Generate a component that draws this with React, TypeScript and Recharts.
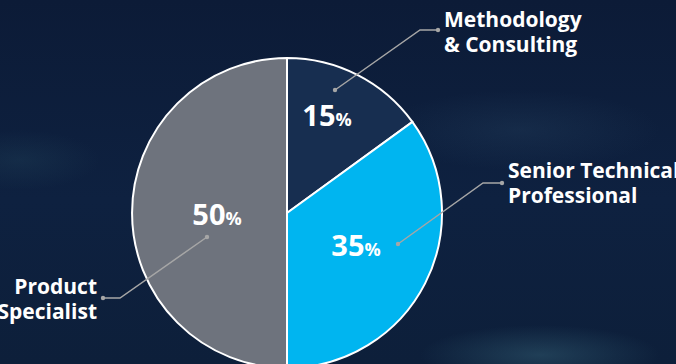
import { PieChart, Pie, Cell } from 'recharts';

const categories = ['Methodology & Consulting', 'Senior Technical Professional', 'Product Specialist'];
const calloutText = [
  ['Methodology', '& Consulting'],
  ['Senior Technical', 'Professional'],
  ['Product', 'Specialist'],
];
const shares = [15, 35, 50];
const sliceColors = ['#172e50', '#00b5f0', '#6e737d'];

const rows = categories.map((name, i) => ({ name, value: shares[i] }));

const W = 676;
const H = 364;
const FONT = '"Open Sans", "Noto Sans", sans-serif';

// callout layout relative to the pie centre
const LAYOUT = [
  { pct: [40, -87], start: [48, -123], elbow: [133, -183], end: [151, -183], text: [157, -186], anchor: 'start' },
  { pct: [69, 43], start: [111, 31], elbow: [196, -30], end: [215, -30], text: [221, -35], anchor: 'start' },
  { pct: [-70, 12], start: [-80, 24], elbow: [-167, 85], end: [-184, 85], text: [-190, 81], anchor: 'end' },
];

function renderLabel(props: any) {
  const { cx, cy, index, value } = props;
  const l = LAYOUT[index];
  const p = (pt: number[]) => [cx + pt[0], cy + pt[1]];
  const [sx, sy] = p(l.start);
  const [ex, ey] = p(l.elbow);
  const [tx, ty] = p(l.end);
  const [px, py] = p(l.pct);
  const [lx, ly] = p(l.text);
  return (
    <g key={`lbl-${index}`}>
      <polyline points={`${sx},${sy} ${ex},${ey} ${tx},${ty}`} fill="none" stroke="#a6a6a6" strokeWidth={1.5} />
      <circle cx={sx} cy={sy} r={2.2} fill="#a6a6a6" />
      <circle cx={tx} cy={ty} r={2.2} fill="#a6a6a6" />
      <text x={px} y={py} textAnchor="middle" fill="#fff" fontFamily={FONT} fontWeight={700}>
        <tspan fontSize={29}>{value}</tspan>
        <tspan fontSize={18}>%</tspan>
      </text>
      {calloutText[index].map((line, j) => (
        <text
          key={j}
          x={lx}
          y={ly + j * 25}
          textAnchor={l.anchor}
          fill="#fff"
          fontFamily={FONT}
          fontWeight={700}
          fontSize={21}
        >
          {line}
        </text>
      ))}
    </g>
  );
}

export default function App() {
  return (
    <div
      style={{
        position: 'absolute',
        left: 0,
        top: 0,
        width: W,
        height: H,
        overflow: 'hidden',
        background:
          'radial-gradient(ellipse 120px 30px at 540px 355px, rgba(60,110,130,0.4), transparent), ' +
          'radial-gradient(ellipse 140px 40px at 520px 130px, rgba(40,70,100,0.3), transparent), ' +
          'radial-gradient(ellipse 80px 30px at 20px 160px, rgba(40,80,100,0.25), transparent), ' +
          'linear-gradient(180deg, #0c1b37 0%, #0e2140 55%, #0d1f3a 100%)',
      }}
    >
      <PieChart width={W} height={H} margin={{ top: 0, right: 0, bottom: 0, left: 0 }}>
        <Pie
          data={rows}
          dataKey="value"
          nameKey="name"
          cx={287}
          cy={213}
          outerRadius={155}
          startAngle={90}
          endAngle={-270}
          stroke="#ffffff"
          strokeWidth={2}
          label={renderLabel}
          labelLine={false}
          isAnimationActive={false}
        >
          {rows.map((r, i) => (
            <Cell key={r.name} fill={sliceColors[i]} />
          ))}
        </Pie>
      </PieChart>
    </div>
  );
}
